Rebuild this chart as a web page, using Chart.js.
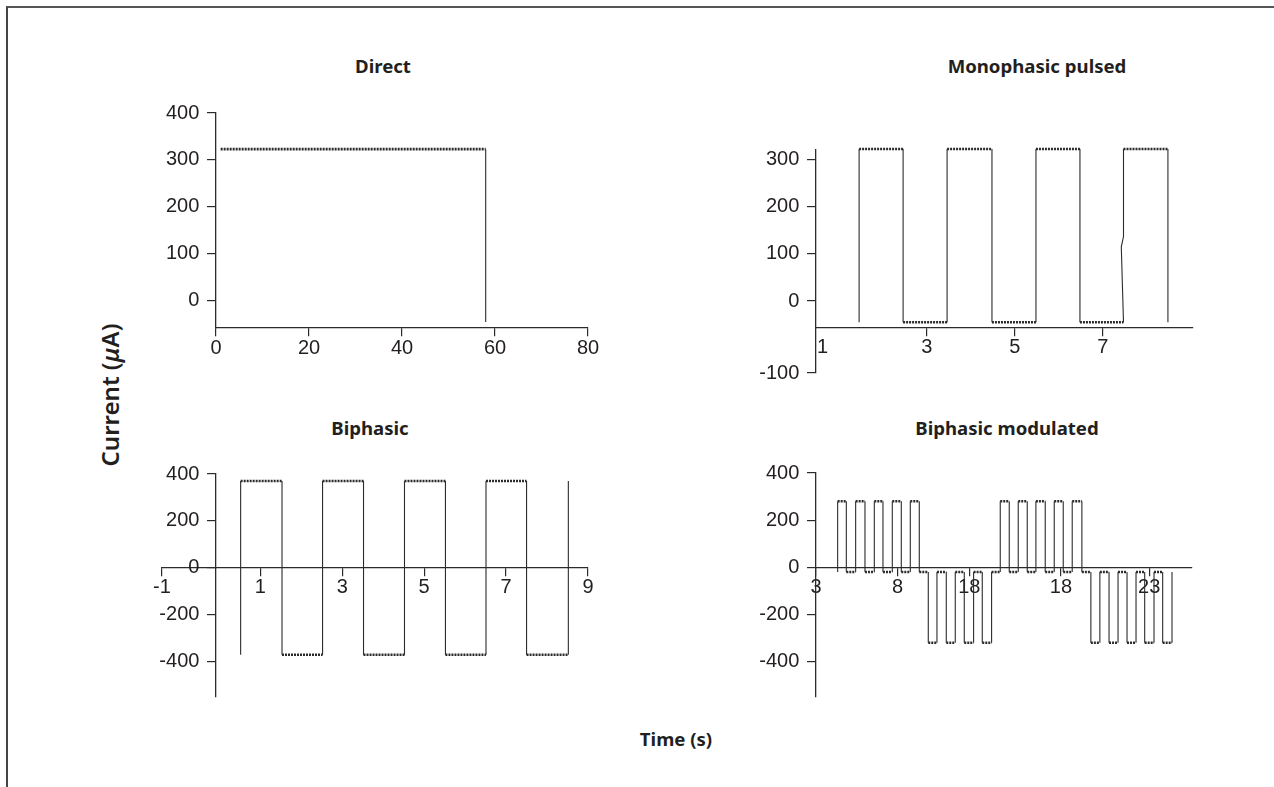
<!DOCTYPE html>
<html>
<head>
<meta charset="utf-8">
<script src="https://cdn.jsdelivr.net/npm/chart.js@4.4.0/dist/chart.umd.min.js"></script>
<style>
  body { margin: 0; background: #fff; }
  #page { position: relative; width: 1274px; height: 787px; overflow: hidden;
          font-family: 'Noto Sans', sans-serif; color: #231f20; }
  #frame { position: absolute; left: 6px; top: 6px; right: -10px; bottom: -10px;
           border-top: 2px solid #555; border-left: 2px solid #444; }
  .title { position: absolute; font-weight: bold; font-size: 18.6px; line-height: 1;
           transform: translate(-50%, -50%); white-space: nowrap; }
  #ylab { position: absolute; left: 110px; top: 395px; font-size: 24px; font-weight: 600;
          line-height: 1; white-space: nowrap; transform: translate(-50%, -50%) rotate(-90deg); }
  canvas { position: absolute; }
</style>
</head>
<body>
<div id="page">
  <div id="frame"></div>
  <div class="title" style="left:383px; top:66px;">Direct</div>
  <div class="title" style="left:1037px; top:66px;">Monophasic pulsed</div>
  <div class="title" style="left:370px; top:428px;">Biphasic</div>
  <div class="title" style="left:1007px; top:428px;">Biphasic modulated</div>
  <div id="ylab">Current (<i>μ</i>A)</div>
  <div class="title" style="left:676px; top:739px;">Time (s)</div>

  <canvas id="direct" width="472" height="275" style="left:146px; top:93px;"></canvas>
  <canvas id="mono" width="477" height="283" style="left:746px; top:130px;"></canvas>
  <canvas id="bi" width="526" height="283" style="left:92px; top:454px;"></canvas>
  <canvas id="mod" width="476" height="284" style="left:746px; top:453px;"></canvas>
</div>

<script>
// Direct current
var directX = [1, 58, 58];
var directY = [323, 323, -45];
var directXTicks = [0, 20, 40, 60, 80];
var directXLabels = ['0', '20', '40', '60', '80'];
var directYTicks = [0, 100, 200, 300, 400];
var directYLabels = ['0', '100', '200', '300', '400'];

// Monophasic pulsed (the rise near 7.5 has a small kink)
var monoX = [1.46, 1.46, 2.46, 2.46, 3.46, 3.46, 4.48, 4.48, 5.48, 5.48, 6.48, 6.48, 7.47, 7.42, 7.47, 7.47, 8.48, 8.48];
var monoY = [-45, 323, 323, -45, -45, 323, 323, -45, -45, 323, 323, -45, -45, 115, 137, 323, 323, -45];
var monoXTicks = [0.63, 3, 5, 7];
var monoXLabels = ['1', '3', '5', '7'];
var monoYTicks = [-153, 0, 100, 200, 300];
var monoYLabels = ['-100', '0', '100', '200', '300'];

// Biphasic: switching times and the level held after each one
var biEdges = [0.52, 1.53, 2.52, 3.52, 4.52, 5.52, 6.51, 7.50, 8.52];
var biLevels = [370, -370, 370, -370, 370, -370, 370, -370];
var biXTicks = [-1.4, 1, 3, 5, 7, 9];
var biXLabels = ['-1', '1', '3', '5', '7', '9'];
var biYTicks = [-400, -200, 0, 200, 400];
var biYLabels = ['-400', '-200', '0', '200', '400'];

// Biphasic modulated
var modEdges = [4.30, 4.82, 5.38, 5.94, 6.50, 7.02, 7.58, 8.12, 8.66, 9.20, 9.74, 10.26, 10.82,
                11.36, 11.90, 12.46, 12.98, 13.54, 14.06, 14.60, 15.14, 15.68, 16.20, 16.76,
                17.30, 17.84, 18.38, 18.96, 19.50, 20.04, 20.59, 21.13, 21.67, 22.21, 22.73,
                23.29, 23.81, 24.37];
var modLevels = [280, -20, 280, -20, 280, -20, 280, -20, 280, -20,
                 -320, -20, -320, -20, -320, -20, -320, -20,
                 280, -20, 280, -20, 280, -20, 280, -20, 280, -20,
                 -320, -20, -320, -20, -320, -20, -320, -20, -320];
var modXTicks = [3, 7.9, 12.2, 17.7, 23];
var modXLabels = ['3', '8', '18', '18', '23'];
var modYTicks = [-400, -200, 0, 200, 400];
var modYLabels = ['-400', '-200', '0', '200', '400'];

var ink = '#2b2b2b';
var tickFont = { family: "'Liberation Sans', Arial, sans-serif", size: 20 };

function xyPoints(xs, ys) {
    return xs.map(function (x, i) { return { x: x, y: ys[i] }; });
}

// turn switching times + levels into the corners of a square wave
function stepPoints(edges, levels, startY, endY) {
    var pts = [{ x: edges[0], y: startY }];
    for (var i = 0; i < levels.length; i++) {
        pts.push({ x: edges[i], y: levels[i] });
        pts.push({ x: edges[i + 1], y: levels[i] });
    }
    pts.push({ x: edges[edges.length - 1], y: endY });
    return pts;
}

function flat(ctx) {
    return ctx.p0.parsed.y === ctx.p1.parsed.y;
}

function axis(min, max, at, ticks, labels, hideFirst) {
    var vertical = ('x' in at);
    return {
        type: 'linear',
        min: min,
        max: max,
        position: at,
        afterBuildTicks: function (scale) {
            scale.ticks = ticks.map(function (v) { return { value: v }; });
        },
        ticks: {
            autoSkip: false, maxRotation: 0, minRotation: 0,
            padding: 0, color: '#231f20', font: tickFont,
            // y labels of an axis placed by value sit on the line, the spaces push them off it
            callback: function (v, i) { return vertical ? labels[i] + '   ' : labels[i]; }
        },
        grid: {
            display: true, drawOnChartArea: false, drawTicks: true, tickLength: 8,
            lineWidth: 1.2,
            color: function (c) { return (hideFirst && c.index === 0) ? 'rgba(0,0,0,0)' : ink; }
        },
        border: { display: true, color: ink, width: 1.3 }
    };
}

function makePanel(id, points, xScale, yScale) {
    new Chart(document.getElementById(id), {
        type: 'line',
        data: {
            datasets: [{
                data: points,
                borderColor: ink,
                borderWidth: 1.1,
                pointRadius: 0,
                tension: 0,
                fill: false,
                clip: false,
                segment: {
                    borderWidth: function (ctx) { return flat(ctx) ? 2.6 : 1.1; },
                    borderDash: function (ctx) { return flat(ctx) ? [2, 1] : undefined; }
                }
            }]
        },
        options: {
            responsive: false,
            animation: false,
            events: [],
            layout: { padding: { left: 70, right: 30, top: 20, bottom: 40 } },
            plugins: { legend: { display: false }, tooltip: { enabled: false } },
            scales: { x: xScale, y: yScale }
        }
    });
}

makePanel('direct', xyPoints(directX, directY),
    axis(0, 80, { y: -58 }, directXTicks, directXLabels),
    axis(-58, 400, { x: 0 }, directYTicks, directYLabels));

makePanel('mono', xyPoints(monoX, monoY),
    axis(0.48, 9.05, { y: -57 }, monoXTicks, monoXLabels, true),
    axis(-153, 321, { x: 0.48 }, monoYTicks, monoYLabels));

makePanel('bi', stepPoints(biEdges, biLevels, -370, 370),
    axis(-1.4, 9, { y: 0 }, biXTicks, biXLabels),
    axis(-550, 400, { x: -0.08 }, biYTicks, biYLabels));

makePanel('mod', stepPoints(modEdges, modLevels, -20, -20),
    axis(3, 25.57, { y: 0 }, modXTicks, modXLabels),
    axis(-550, 400, { x: 3 }, modYTicks, modYLabels));
</script>
</body>
</html>
